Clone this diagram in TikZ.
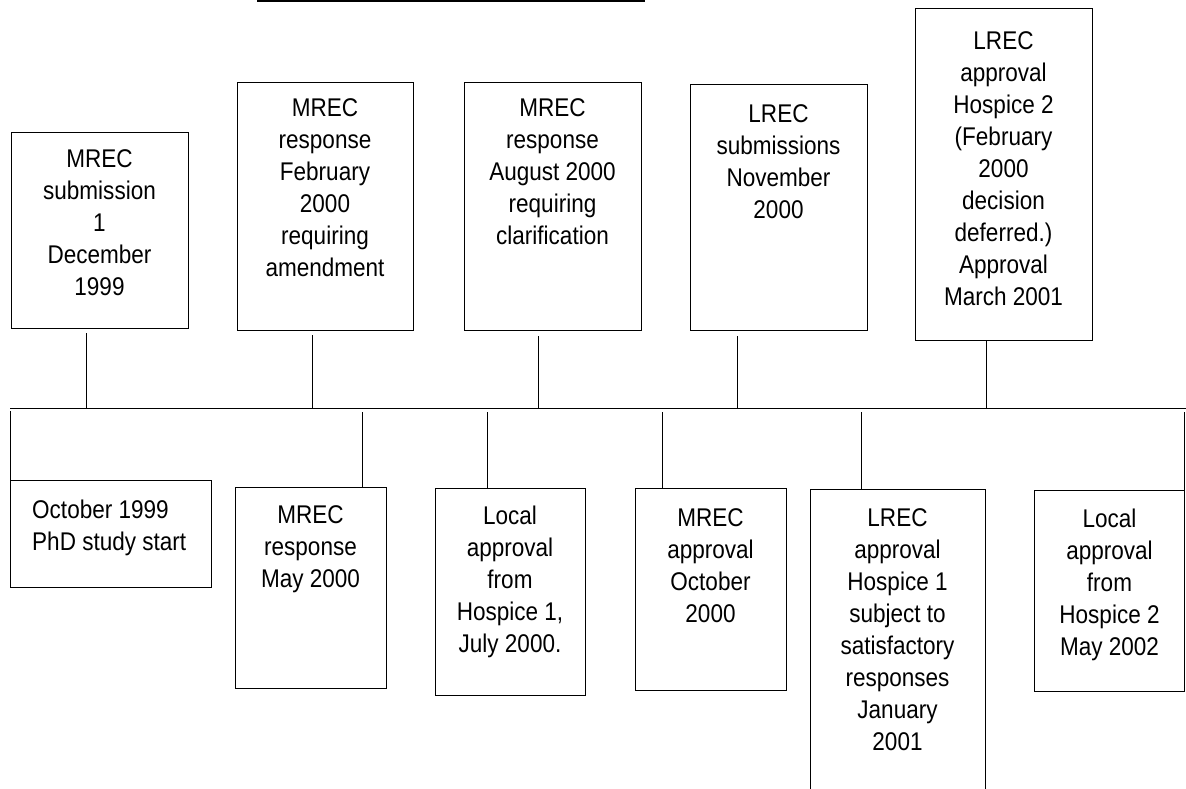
\documentclass[tikz,border=0pt]{standalone}
\usepackage{fontspec}
\setmainfont{Liberation Sans}[FakeStretch=0.88]
\usetikzlibrary{positioning}

\begin{document}
\begin{tikzpicture}[x=1pt,y=-1pt,
		evbox/.style={draw,line width=.9pt,inner sep=0pt,outer sep=0pt},
		evtext/.style={font=\fontsize{25.6}{32}\selectfont,align=center,inner sep=0pt,anchor=north},
		tick/.style={line width=.9pt}]

	\useasboundingbox (0,0) rectangle (1186,789);

	\draw[line width=1.5pt] (257,1) -- (645,1);

	\coordinate (lineL) at (10,408);
	\coordinate (lineR) at (1186,408);
	\draw[tick] (lineL) -- (lineR);

		\node[evbox,minimum width=177pt,minimum height=196pt] (sub1999) at (99.5,230){};
		\node[evtext] (sub1999txt) at (99.5,149){MREC\\submission\\1\\December\\1999};
		\node[evbox,minimum width=176pt,minimum height=248pt] (resp2000a) at (325,206){};
		\node[evtext] (resp2000atxt) at (325,98){MREC\\response\\February\\2000\\requiring\\amendment};
		\node[evbox,minimum width=177pt,minimum height=248pt] (resp2000c) at (552.5,206){};
		\node[evtext] (resp2000ctxt) at (552.5,98){MREC\\response\\August 2000\\requiring\\clarification};
		\node[evbox,minimum width=177pt,minimum height=246pt] (lsub2000) at (778.5,207){};
		\node[evtext] (lsub2000txt) at (778.5,104){LREC\\submissions\\November\\2000};
		\node[evbox,minimum width=177pt,minimum height=332pt] (lapp2) at (1003.5,174){};
		\node[evtext] (lapp2txt) at (1003.5,31){LREC\\approval\\Hospice 2\\(February\\2000\\decision\\deferred.)\\Approval\\March 2001};

		\coordinate (up1) at (86,408);
		\coordinate (up2) at (312,408);
		\coordinate (up3) at (538,408);
		\coordinate (up4) at (737,408);
		\coordinate (up5) at (986,408);
		\draw[tick,shorten <=5pt] (sub1999.south -| up1) -- (up1);
		\draw[tick,shorten <=5pt] (resp2000a.south -| up2) -- (up2);
		\draw[tick,shorten <=6pt] (resp2000c.south -| up3) -- (up3);
		\draw[tick,shorten <=6pt] (lsub2000.south -| up4) -- (up4);
		\draw[tick] (lapp2.south -| up5) -- (up5);

		\node[evbox,minimum width=201pt,minimum height=107pt] (start1999) at (110.5,533.5){};
		\node[evtext,align=left,anchor=north west] (start1999txt) at (32,499.5){October 1999\\PhD study start};
		\node[evbox,minimum width=151pt,minimum height=201pt] (resp2000m) at (310.5,587.5){};
		\node[evtext] (resp2000mtxt) at (310.5,505){MREC\\response\\May 2000};
		\node[evbox,minimum width=150pt,minimum height=207pt] (loc1) at (510,591.5){};
		\node[evtext] (loc1txt) at (510,506){Local\\approval\\from\\Hospice 1,\\July 2000.};
		\node[evbox,minimum width=151pt,minimum height=202pt] (mapp2000) at (710.5,589){};
		\node[evtext] (mapp2000txt) at (710.5,508){MREC\\approval\\October\\2000};
		\node[evbox,minimum width=175pt,minimum height=320pt] (lapp1) at (897.5,649){};
		\node[evtext] (lapp1txt) at (897.5,508){LREC\\approval\\Hospice 1\\subject to\\satisfactory\\responses\\January\\2001};
		\node[evbox,minimum width=150pt,minimum height=201pt] (loc2) at (1109.5,590.5){};
		\node[evtext] (loc2txt) at (1109.5,509){Local\\approval\\from\\Hospice 2\\May 2002};

		\coordinate (dn1) at (10,408);
		\coordinate (dn2) at (362,408);
		\coordinate (dn3) at (487,408);
		\coordinate (dn4) at (662,408);
		\coordinate (dn5) at (861,408);
		\coordinate (dn6) at (1184,408);
		\draw[tick,shorten <=3pt] (dn1) -- (start1999.north -| dn1);
		\draw[tick,shorten <=4pt] (dn2) -- (resp2000m.north -| dn2);
		\draw[tick,shorten <=4pt] (dn3) -- (loc1.north -| dn3);
		\draw[tick,shorten <=4pt] (dn4) -- (mapp2000.north -| dn4);
		\draw[tick,shorten <=4pt] (dn5) -- (lapp1.north -| dn5);
		\draw[tick,shorten <=4pt] (dn6) -- (loc2.north -| dn6);
	\end{tikzpicture}
\end{document}
